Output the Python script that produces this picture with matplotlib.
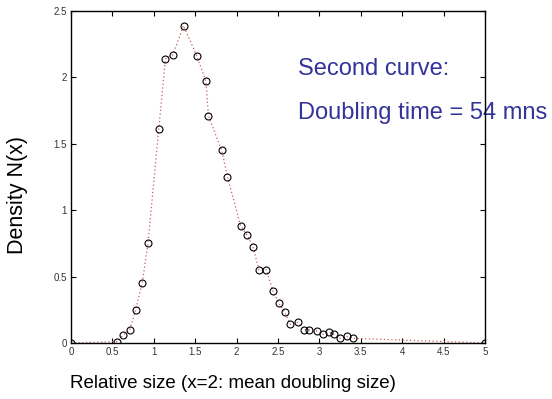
import matplotlib
matplotlib.use("Agg")
import matplotlib.pyplot as plt

# Relative cell size and measured density
size = [0.0, 0.56, 0.63, 0.71, 0.78, 0.86, 0.93, 1.06, 1.14, 1.23, 1.36,
        1.52, 1.63, 1.66, 1.82, 1.89, 2.05, 2.13, 2.20, 2.27, 2.36, 2.44,
        2.51, 2.58, 2.65, 2.74, 2.82, 2.88, 2.97, 3.04, 3.12, 3.18, 3.25,
        3.33, 3.41, 5.0]
density = [0.0, 0.01, 0.06, 0.10, 0.25, 0.45, 0.75, 1.61, 2.14, 2.17, 2.39,
           2.16, 1.97, 1.71, 1.45, 1.25, 0.88, 0.81, 0.72, 0.55, 0.55, 0.39,
           0.30, 0.235, 0.14, 0.155, 0.10, 0.10, 0.09, 0.065, 0.08, 0.065,
           0.035, 0.05, 0.035, 0.0]

xticks = [0, 0.5, 1, 1.5, 2, 2.5, 3, 3.5, 4, 4.5, 5]
xticklabels = ["0", "0.5", "1", "1.5", "2", "2.5", "3", "3.5", "4", "4.5", "5"]
yticks = [0, 0.5, 1, 1.5, 2, 2.5]
yticklabels = ["0", "0.5", "1", "1.5", "2", "2.5"]

plt.rcParams["font.family"] = ["Liberation Sans", "DejaVu Sans"]

fig = plt.figure(figsize=(5.52, 3.99), dpi=100)
ax = fig.add_axes([0.1286, 0.1404, 0.75, 0.832])

# dotted fit line plus open-circle measurements
ax.plot(size, density, linestyle=(0, (1, 2)), color="#c86060", lw=0.9, zorder=2)
ax.plot(size, density, linestyle="none", marker="o", markersize=5,
        markerfacecolor="none", markeredgecolor="black", markeredgewidth=0.8,
        zorder=3)

ax.set_xlim(0, 5)
ax.set_ylim(0, 2.5)
ax.set_xticks(xticks)
ax.set_xticklabels(xticklabels)
ax.set_yticks(yticks)
ax.set_yticklabels(yticklabels)
ax.tick_params(direction="in", length=3.5, width=0.8, top=True, right=True,
               labelsize=7, labelcolor="#333333", pad=3)
for s in ax.spines.values():
    s.set_linewidth(1.0)
    s.set_color("black")

fig.text(0.422, 0.040, "Relative size (x=2: mean doubling size)",
         fontsize=13.5, ha="center", va="center")
fig.text(0.031, 0.511, "Density N(x)", fontsize=15.5, rotation=90,
         ha="center", va="center")

ax.text(0.5400, 0.812, "Second curve:", transform=fig.transFigure,
        fontsize=17, color="#333399", ha="left", va="baseline", zorder=1)
ax.text(0.5400, 0.702, "Doubling time = 54 mns", transform=fig.transFigure,
        fontsize=17, color="#333399", ha="left", va="baseline", zorder=1)

fig.savefig("out.png", dpi=100)
